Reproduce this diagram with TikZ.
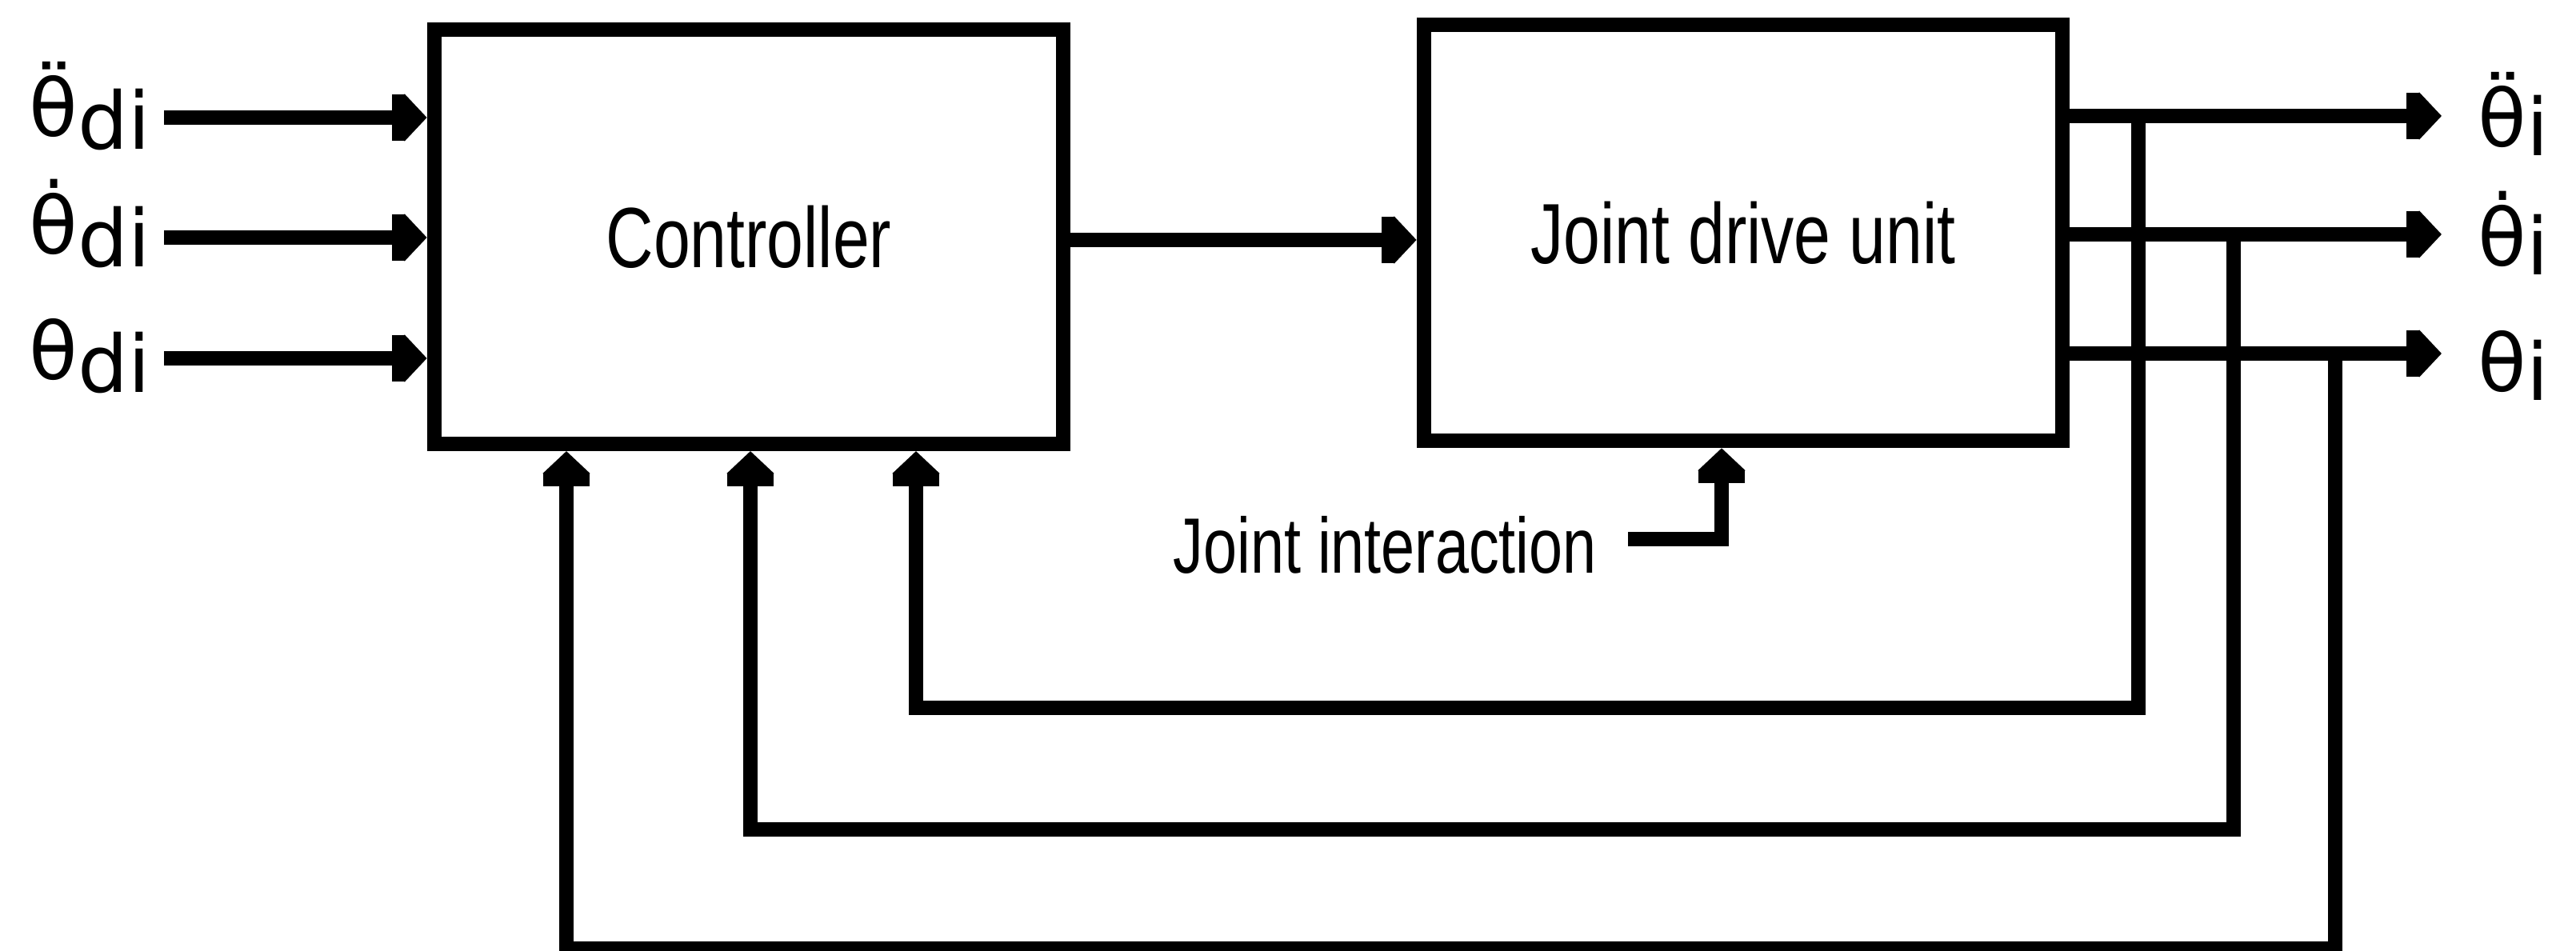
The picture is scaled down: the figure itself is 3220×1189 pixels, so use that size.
\documentclass[tikz,border=0pt]{standalone}
\usepackage{fontspec}
\setmainfont{Liberation Sans}
\newfontfamily\condfont[FakeStretch=0.77]{Liberation Sans}
\newfontfamily\sigfont{DejaVu Sans}
\usetikzlibrary{arrows.meta}
\newcommand\lowered[2]{\raisebox{-#1}{#2}}

\begin{document}
\begin{tikzpicture}[x=0.01cm,y=-0.01cm,
  wire/.style={line width=5.2pt},
  arrowed/.style={wire,-{Rectangle[length=4.5pt,width=16.5pt]Triangle[length=8pt,width=16.5pt]}},
  block/.style={draw,wire,rectangle,inner sep=0pt,font=\condfont\fontsize{30.4}{36}\selectfont},
  sig/.style={inner sep=0pt,anchor=base west,font=\sigfont\fontsize{28.2}{34}\selectfont},
]
\useasboundingbox (0,0) rectangle (3220,1189);
\fill[white] (0,0) rectangle (3220,1189);

% blocks
\node[block,minimum width=7.86cm,minimum height=5.175cm] (ctrl) at (936,296) {Controller};
\node[block,minimum width=7.98cm,minimum height=5.2cm] (jdu) at (2179,291) {Joint drive unit};

% reference inputs
\node[sig] (in1) at (36,171) {θ̈\lowered{4.5pt}{di}};
\node[sig] (in2) at (36,318) {θ̇\lowered{4.5pt}{di}};
\node[sig] (in3) at (36,475) {θ\lowered{4.5pt}{di}};
\coordinate (s1) at (205,147);
\coordinate (s2) at (205,297);
\coordinate (s3) at (205,448);
\draw[arrowed] (s1) -- (s1 -| ctrl.west);
\draw[arrowed] (s2) -- (s2 -| ctrl.west);
\draw[arrowed] (s3) -- (s3 -| ctrl.west);

% controller to joint drive unit
\coordinate (mid) at (1550,300);
\draw[arrowed] (mid -| ctrl.east) -- (mid -| jdu.west);

% outputs
\coordinate (o1) at (3052,145);
\coordinate (o2) at (3052,293);
\coordinate (o3) at (3052,442);
\draw[arrowed] (o1 -| jdu.east) -- (o1);
\draw[arrowed] (o2 -| jdu.east) -- (o2);
\draw[arrowed] (o3 -| jdu.east) -- (o3);
\node[sig] (out1) at (3097,184) {θ̈\lowered{3pt}{i}};
\node[sig] (out2) at (3097,333) {θ̇\lowered{3pt}{i}};
\node[sig] (out3) at (3097,490) {θ\lowered{3pt}{i}};

% feedback loops
\coordinate (tapA) at (2673,145);
\coordinate (tapB) at (2792,293);
\coordinate (tapC) at (2919,442);
\coordinate (botA) at (1145,885);
\coordinate (botB) at (938,1037);
\coordinate (botC) at (708,1186);
\draw[arrowed] (tapA) |- (botA) -- (botA |- ctrl.south);
\draw[arrowed] (tapB) |- (botB) -- (botB |- ctrl.south);
\draw[arrowed] (tapC) |- (botC) -- (botC |- ctrl.south);

% joint interaction
\node[inner sep=0pt,anchor=base west,font=\condfont\fontsize{27.9}{32}\selectfont] (jint) at (1466,717) {Joint interaction};
\coordinate (jiA) at (2035,674);
\coordinate (jiB) at (2152,674);
\draw[arrowed] (jiA) -| (jdu.south -| jiB);
\end{tikzpicture}
\end{document}
